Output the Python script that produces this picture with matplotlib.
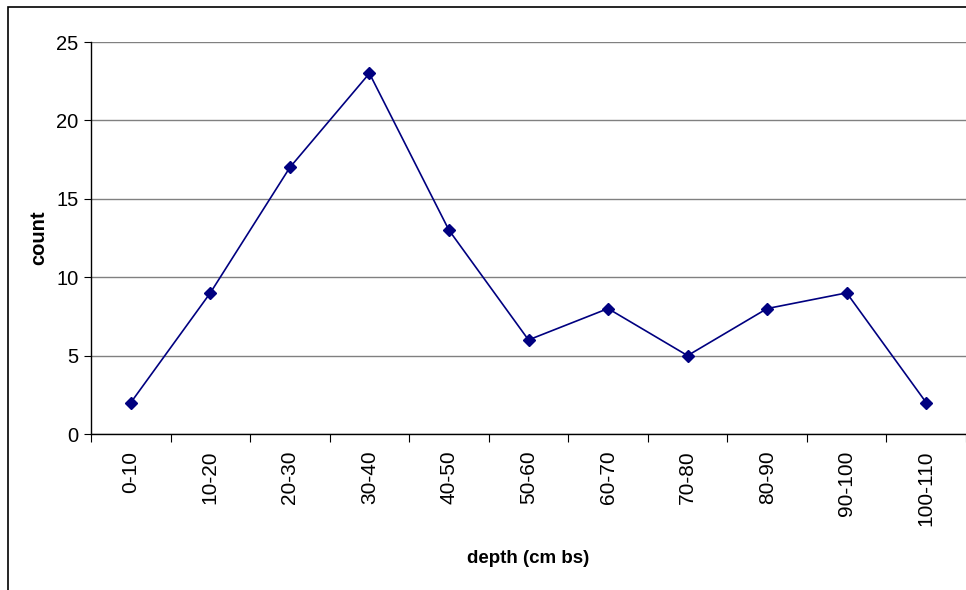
import matplotlib
matplotlib.use("Agg")
import matplotlib.pyplot as plt
from matplotlib.patches import Rectangle

plt.rcParams['font.family'] = ['Liberation Sans', 'DejaVu Sans']

# depth bins and counts
depths = ['0-10', '10-20', '20-30', '30-40', '40-50', '50-60',
          '60-70', '70-80', '80-90', '90-100', '100-110']
counts = [2, 9, 17, 23, 13, 6, 8, 5, 8, 9, 2]
y_ticks = [0, 5, 10, 15, 20, 25]

fig = plt.figure(figsize=(9.66, 5.9), dpi=100)
ax = fig.add_axes([91 / 966, 1 - 434 / 590, 1 - 91 / 966, (434 - 42) / 590])

# outer chart border (cut off at right and bottom like the original)
fig.patches.append(Rectangle((8 / 966, -0.05), 1.1, 1.05 - 7 / 590,
                             transform=fig.transFigure, fill=False,
                             edgecolor='black', linewidth=1.2))

x = list(range(len(depths)))
ax.plot(x, counts, color='#000080', linewidth=1.2, marker='D',
        markersize=6, markerfacecolor='#000080', markeredgecolor='#000080',
        zorder=3)

ax.set_xlim(-0.5, len(depths) - 0.5)
ax.set_ylim(0, 25)
ax.set_yticks(y_ticks)
ax.yaxis.grid(True, color='#808080', linewidth=1.0)
ax.set_axisbelow(True)

# ticks between categories, labels at category centres
ax.set_xticks([i - 0.5 for i in range(len(depths) + 1)])
ax.set_xticklabels([])
ax.set_xticks(x, minor=True)
ax.set_xticklabels(depths, minor=True, rotation=90, fontsize=15)
ax.tick_params(axis='x', which='major', length=6, direction='out', color='black')
ax.tick_params(axis='x', which='minor', length=0, pad=12)
ax.tick_params(axis='y', length=5, direction='out', labelsize=14.5, pad=4)

for s in ['top', 'right']:
    ax.spines[s].set_visible(False)
for s in ['left', 'bottom']:
    ax.spines[s].set_color('black')
    ax.spines[s].set_linewidth(1.0)

ax.set_xlabel('depth (cm bs)', fontsize=13.5, fontweight='bold', labelpad=17)
ax.set_ylabel('count', fontsize=14.5, fontweight='bold', labelpad=6)

fig.savefig('out.png', dpi=100)
